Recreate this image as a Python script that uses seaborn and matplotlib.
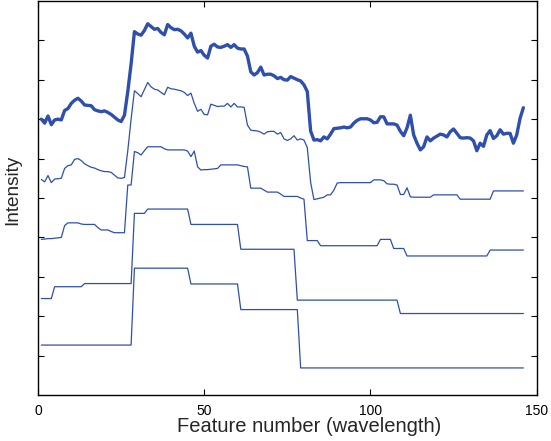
import numpy as np
import matplotlib
matplotlib.use("Agg")
import matplotlib.pyplot as plt
import seaborn as sns

# feature numbers (1-indexed, like the original)
x = np.arange(1, 147)

# top curve: raw spectrum (thick)
raw = [7.00, 6.90, 7.08, 6.86, 6.98, 7.00, 6.98, 7.22, 7.27, 7.40,
       7.48, 7.53, 7.46, 7.36, 7.35, 7.34, 7.24, 7.21, 7.19, 7.21,
       7.17, 7.12, 7.05, 6.98, 6.94, 7.10, 7.70, 8.40, 9.22, 9.16,
       9.13, 9.25, 9.42, 9.35, 9.28, 9.30, 9.20, 9.14, 9.40, 9.32,
       9.27, 9.28, 9.24, 9.16, 9.06, 9.18, 8.85, 8.70, 8.74, 8.62,
       8.55, 8.85, 8.90, 8.83, 8.82, 8.85, 8.89, 8.82, 8.89, 8.80,
       8.78, 8.78, 8.60, 8.20, 8.12, 8.18, 8.32, 8.12, 8.14, 8.14,
       8.10, 8.03, 8.06, 8.00, 7.99, 8.08, 8.04, 8.00, 7.97, 7.87,
       7.70, 6.70, 6.47, 6.48, 6.45, 6.55, 6.50, 6.62, 6.76, 6.77,
       6.78, 6.80, 6.78, 6.80, 6.90, 6.97, 7.01, 7.01, 7.01, 6.98,
       6.91, 6.92, 7.06, 7.06, 6.88, 6.88, 6.88, 6.85, 6.69, 6.58,
       6.78, 7.10, 6.60, 6.39, 6.22, 6.30, 6.55, 6.45, 6.52, 6.57,
       6.62, 6.60, 6.55, 6.68, 6.75, 6.64, 6.53, 6.52, 6.53, 6.52,
       6.45, 6.20, 6.39, 6.31, 6.60, 6.71, 6.51, 6.58, 6.73, 6.62,
       6.64, 6.64, 6.39, 6.60, 7.02, 7.29]

# level 1
lev1 = [5.47, 5.41, 5.57, 5.39, 5.48, 5.49, 5.50, 5.75, 5.82, 5.84,
        5.98, 6.00, 5.95, 5.87, 5.82, 5.78, 5.76, 5.72, 5.69, 5.67,
        5.67, 5.65, 5.58, 5.51, 5.50, 5.52, 6.20, 7.00, 7.72, 7.65,
        7.57, 7.75, 7.93, 7.82, 7.76, 7.74, 7.68, 7.62, 7.81, 7.77,
        7.76, 7.74, 7.72, 7.68, 7.60, 7.66, 7.40, 7.20, 7.25, 7.12,
        7.11, 7.38, 7.35, 7.32, 7.33, 7.33, 7.40, 7.31, 7.40, 7.31,
        7.31, 7.30, 6.85, 6.72, 6.71, 6.70, 6.67, 6.62, 6.68, 6.69,
        6.69, 6.62, 6.66, 6.50, 6.46, 6.50, 6.58, 6.47, 6.50, 6.47,
        6.28, 5.40, 4.96, 4.98, 5.00, 5.02, 5.08, 5.08, 5.20, 5.38,
        5.39, 5.39, 5.39, 5.39, 5.39, 5.39, 5.39, 5.39, 5.39, 5.39,
        5.46, 5.46, 5.46, 5.44, 5.36, 5.35, 5.35, 5.33, 5.09, 5.09,
        5.26, 5.03, 5.02, 5.02, 5.02, 5.02, 5.02, 5.02, 5.08, 5.08,
        5.08, 5.08, 5.08, 5.08, 5.08, 5.08, 4.97, 4.97, 4.97, 4.97,
        4.97, 4.97, 4.97, 4.97, 4.97, 4.97, 5.18, 5.18, 5.18, 5.18,
        5.18, 5.18, 5.18, 5.18, 5.18, 5.18]

# level 2
lev2 = [3.95, 3.96, 3.97, 3.97, 3.98, 3.99, 4.00, 4.30, 4.37, 4.37,
        4.37, 4.37, 4.34, 4.33, 4.33, 4.33, 4.33, 4.25, 4.19, 4.19,
        4.19, 4.15, 4.12, 4.12, 4.12, 4.12, 5.33, 5.33, 6.18, 6.15,
        6.09, 6.20, 6.30, 6.30, 6.30, 6.30, 6.30, 6.25, 6.22, 6.22,
        6.22, 6.22, 6.22, 6.22, 6.19, 6.05, 6.19, 5.79, 5.71, 5.72,
        5.72, 5.73, 5.74, 5.75, 5.84, 5.84, 5.84, 5.84, 5.84, 5.84,
        5.82, 5.80, 5.79, 5.25, 5.25, 5.25, 5.25, 5.20, 5.15, 5.15,
        5.15, 5.15, 5.10, 5.04, 5.04, 5.04, 5.04, 5.04, 5.00, 4.97,
        3.92, 3.92, 3.92, 3.92, 3.79, 3.79, 3.79, 3.79, 3.79, 3.79,
        3.79, 3.79, 3.79, 3.79, 3.79, 3.79, 3.79, 3.79, 3.79, 3.79,
        3.79, 3.79, 3.95, 3.95, 3.95, 3.95, 3.72, 3.72, 3.72, 3.72,
        3.53, 3.53, 3.53, 3.53, 3.53, 3.53, 3.53, 3.53, 3.53, 3.53,
        3.53, 3.53, 3.53, 3.53, 3.53, 3.53, 3.53, 3.53, 3.53, 3.53,
        3.53, 3.53, 3.53, 3.53, 3.53, 3.68, 3.68, 3.68, 3.68, 3.68,
        3.68, 3.68, 3.68, 3.68, 3.68, 3.68]

# level 3 and 4: piecewise constant (level, run length)
lev3_vals = [2.45, 2.75, 2.83, 4.61, 4.72, 4.33, 3.70, 2.41, 2.07]
lev3_runs = [4, 9, 15, 4, 13, 15, 17, 31, 38]
lev4_vals = [1.27, 3.22, 2.82, 2.17, 0.69]
lev4_runs = [28, 17, 15, 18, 68]

lev3 = np.repeat(lev3_vals, lev3_runs)
lev4 = np.repeat(lev4_vals, lev4_runs)

blue = "#2f4fae"

sns.set_style("ticks")
plt.rcParams['font.family'] = ['Liberation Sans', 'DejaVu Sans']

fig = plt.figure(figsize=(5.51, 4.41), dpi=100)
ax = fig.add_axes([0.069, 0.104, 0.905, 0.894])

sns.lineplot(x=x, y=raw, ax=ax, color=blue, linewidth=2.4)
for s in [lev1, lev2, lev3, lev4]:
    sns.lineplot(x=x, y=s, ax=ax, color=blue, linewidth=0.9)

ax.set_xlim(0, 150)
ax.set_ylim(0, 10)
ax.set_xticks([0, 50, 100, 150])
ax.set_yticks(range(1, 10))
ax.set_yticklabels([])
ax.tick_params(direction="in", top=True, right=True, length=4, width=0.8,
               labelsize=10, colors="black", pad=6.5)
for sp in ax.spines.values():
    sp.set_visible(True)
    sp.set_linewidth(1.0)
    sp.set_color("black")

ax.set_xlabel("Feature number (wavelength)", fontsize=14.5)
ax.set_ylabel("Intensity", fontsize=13.7)
ax.xaxis.set_label_coords(0.544, -0.055)
ax.yaxis.set_label_coords(-0.034, 0.52)

fig.savefig("out.png", dpi=100)
